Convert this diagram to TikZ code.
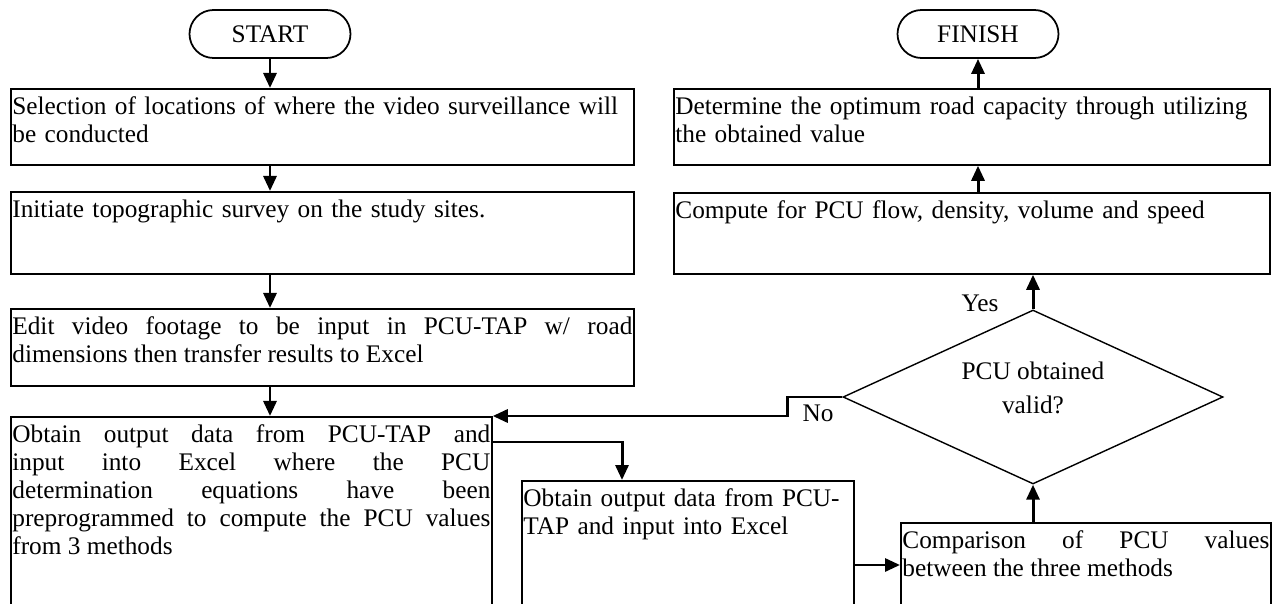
\documentclass[tikz,border=0pt]{standalone}
\usepackage{fontspec}
\setmainfont{Liberation Serif}
\usepackage{tikz}
\usetikzlibrary{arrows.meta, positioning, calc, shapes.geometric}
\newcommand{\bodyfont}{\fontsize{14.4}{15.9}\selectfont}
\tikzset{
  box/.style    = {draw=black, line width=1pt, anchor=north west, align=left,
                   inner xsep=0.03cm, inner ysep=0pt, text height=0.52cm,
                   font=\bodyfont},
  jbox/.style   = {box, align=justify},
  term/.style   = {draw=black, line width=1pt, rounded corners=0.48cm,
                   minimum width=3.22cm, minimum height=0.96cm, font=\bodyfont},
  dec/.style    = {diamond, aspect=2.18, draw=black, line width=0.8pt, inner sep=0pt,
                   minimum width=7.6cm, minimum height=3.48cm, align=center,
                   text depth=0.36cm, font=\fontsize{14.4}{19.5}\selectfont},
  sig/.style    = {-{Triangle[length=3mm, width=2.6mm]}, line width=1.7pt},
  lab/.style    = {font=\bodyfont},
}

\begin{document}
\begin{tikzpicture}[x=1cm, y=1cm]
  \useasboundingbox (0,0) rectangle (25.6,12.06);
  \clip (0,0) rectangle (25.6,12.06);

  % left column
  \node[term] (start) at (5.4,11.38) {START};
  \node[box, text width=12.4cm, text depth=1.0cm] (sel) at (0.2,10.3)
    {Selection of locations of where the video surveillance will\\be conducted};
  \node[box, text width=12.4cm, text depth=1.12cm] (survey) at (0.2,8.24)
    {Initiate topographic survey on the study sites.};
  \node[jbox, text width=12.4cm, text depth=1.02cm] (edit) at (0.2,5.9)
    {Edit video footage to be input in PCU-TAP w/ road\linebreak
     dimensions then transfer results to Excel};
  \node[jbox, text width=9.56cm, text depth=4.0cm] (obtain) at (0.2,3.74)
    {Obtain output data from PCU-TAP and\linebreak
     input into Excel where the PCU\linebreak
     determination equations have been\linebreak
     preprogrammed to compute the PCU values\linebreak
     from 3 methods};

  % middle and right
  \node[box, text width=6.58cm, text depth=3.0cm] (excel) at (10.42,2.46)
    {Obtain output data from PCU-\\TAP and input into Excel};
  \node[jbox, text width=7.34cm, text depth=2.0cm] (compare) at (18.0,1.62)
    {Comparison of PCU values\linebreak between the three methods};
  \node[dec] (valid) at (20.66,4.12) {PCU obtained\\valid?};
  \node[box, text width=11.86cm, text depth=1.1cm] (compute) at (13.46,8.22)
    {Compute for PCU flow, density, volume and speed};
  \node[box, text width=11.86cm, text depth=1.0cm] (det) at (13.46,10.3)
    {Determine the optimum road capacity through utilizing\\the obtained value};
  \node[term] (finish) at (19.56,11.38) {FINISH};

  % connectors
  \draw[sig] (start) -- (start |- sel.north);
  \draw[sig] (sel.south -| start) -- (survey.north -| start);
  \draw[sig] (survey.south -| start) -- (edit.north -| start);
  \draw[sig] (edit.south -| start) -- (obtain.north -| start);
  \draw[sig] ($(obtain.north east)+(0,-0.52)$) -| ($(excel.north west)+(2.02,0)$);
  \draw[sig] ($(excel.north east)+(0,-1.7)$) coordinate (e1) -- (e1 -| compare.west);
  \draw[sig] (compare.north -| valid) -- (valid.south);
  \draw[sig] (valid.north) -- (valid |- compute.south);
  \draw[sig] (valid.west) -- ++(-1.1,0) |- (obtain.north east);
  \draw[sig] (compute.north -| finish) -- (det.south -| finish);
  \draw[sig] (det.north -| finish) -- (finish.south);

  \node[lab] (yes) at (19.6,6.0) {Yes};
  \node[lab] (no) at (16.36,3.8) {No};
\end{tikzpicture}
\end{document}
